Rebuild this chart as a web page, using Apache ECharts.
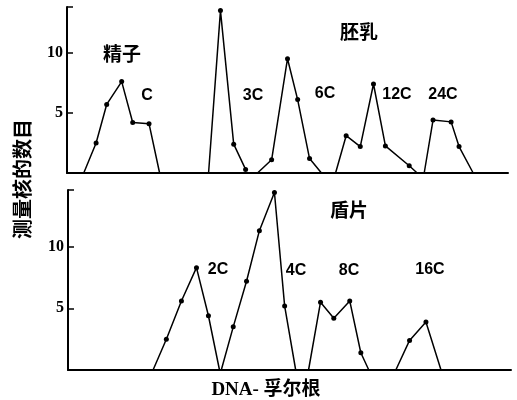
<!DOCTYPE html>
<html>
<head>
<meta charset="utf-8">
<script src="https://cdn.jsdelivr.net/npm/echarts@6/dist/echarts.min.js"></script>
<style>
  html, body { margin: 0; padding: 0; background: #fff; }
  #chart { width: 517px; height: 400px; }
</style>
</head>
<body>
<div id="chart"></div>
<script>
// DNA-Feulgen value (x, arbitrary 0-100) vs number of nuclei measured (y)
// top panel: 胚乳 / 精子
const spermC = [[3.8, 0], [6.6, 2.5], [9.0, 5.7], [12.4, 7.6], [14.9, 4.2], [18.6, 4.1], [21.0, 0]];
const endo3C = [[32.1, 0], [34.8, 13.5], [37.8, 2.4], [40.5, 0.3]];
const endo6C = [[43.2, 0], [46.4, 1.1], [50.0, 9.5], [52.3, 6.1], [55.0, 1.2], [57.7, 0]];
const endo12C = [[60.9, 0], [63.3, 3.1], [66.5, 2.2], [69.5, 7.4], [72.2, 2.25], [77.6, 0.6], [79.4, 0]];
const endo24C = [[81.0, 0], [83.0, 4.4], [87.1, 4.25], [88.9, 2.2], [92.1, 0]];

// bottom panel: 盾片
const scut2C = [[19.2, 0], [22.2, 2.5], [25.6, 5.6], [29.0, 8.3], [31.7, 4.4], [34.2, 0]];
const scut4C = [[34.6, 0], [37.3, 3.5], [40.3, 7.2], [43.2, 11.3], [46.6, 14.4], [48.9, 5.2], [51.4, 0]];
const scut8C = [[54.3, 0], [57.0, 5.5], [60.0, 4.2], [63.6, 5.6], [66.1, 1.4], [67.9, 0]];
const scut16C = [[74.0, 0], [77.1, 2.4], [80.8, 3.9], [84.2, 0]];

const topSeries = [spermC, endo3C, endo6C, endo12C, endo24C];
const bottomSeries = [scut2C, scut4C, scut8C, scut16C];

// text labels: [text, x, y]
const labels = [
  ["精子", 122, 54], ["C", 147, 96], ["3C", 253, 96], ["6C", 325, 94],
  ["12C", 397, 95], ["24C", 443, 95], ["胚乳", 359, 32],
  ["盾片", 349, 210], ["2C", 218, 270], ["4C", 296, 271], ["8C", 349, 271], ["16C", 430, 270]
];

const chart = echarts.init(document.getElementById("chart"));

const axisLineStyle = { color: "#000", width: 2 };

const makeX = (gridIndex) => ({
  type: "value",
  gridIndex,
  min: 0,
  max: 100,
  axisLine: { show: true, onZero: false, lineStyle: axisLineStyle },
  axisTick: { show: false },
  axisLabel: { show: false },
  splitLine: { show: false }
});

const makeY = (gridIndex, max) => ({
  type: "value",
  gridIndex,
  min: 0,
  max,
  interval: 5,
  axisLine: { show: true, lineStyle: axisLineStyle },
  axisTick: { show: true, inside: true, length: 6, lineStyle: { color: "#000", width: 1.5 } },
  axisLabel: {
    color: "#000",
    fontFamily: "Liberation Serif",
    fontWeight: "bold",
    fontSize: 16,
    margin: 4,
    formatter: (v) => (v === 5 || v === 10 ? String(v) : "")
  },
  splitLine: { show: false }
});

const makeSeries = (data, idx) => ({
  type: "line",
  xAxisIndex: idx,
  yAxisIndex: idx,
  data,
  symbol: "circle",
  symbolSize: (val) => (val[1] === 0 ? 0 : 5),
  showAllSymbol: true,
  lineStyle: { color: "#000", width: 1.5 },
  itemStyle: { color: "#000" },
  animation: false
});

const labelFont = (t) =>
  /[\u4e00-\u9fff]/.test(t)
    ? 'bold 19px "Noto Sans CJK SC"'
    : 'bold 16px "Liberation Sans"';

const option = {
  backgroundColor: "#fff",
  grid: [
    { left: 67, right: 9, top: 7, height: 166 },
    { left: 68, right: 6, top: 190, height: 180 }
  ],
  xAxis: [makeX(0), makeX(1)],
  yAxis: [makeY(0, 13.8), makeY(1, 14.6)],
  series: [
    ...topSeries.map((d) => makeSeries(d, 0)),
    ...bottomSeries.map((d) => makeSeries(d, 1))
  ],
  graphic: [
    ...labels.map(([text, x, y]) => ({
      type: "text",
      x,
      y,
      style: { text, font: labelFont(text), fill: "#000", align: "center", verticalAlign: "middle" }
    })),
    {
      type: "text",
      x: 22,
      y: 179,
      rotation: Math.PI / 2,
      style: {
        text: "测量核的数目",
        font: 'bold 20px "Noto Sans CJK SC"',
        fill: "#000",
        align: "center",
        verticalAlign: "middle"
      }
    },
    {
      type: "text",
      x: 266,
      y: 390,
      style: {
        text: "DNA- 孚尔根",
        font: 'bold 19px "Liberation Serif", "Noto Sans CJK SC"',
        fill: "#000",
        align: "center",
        verticalAlign: "middle"
      }
    }
  ]
};

chart.setOption(option);
</script>
</body>
</html>
